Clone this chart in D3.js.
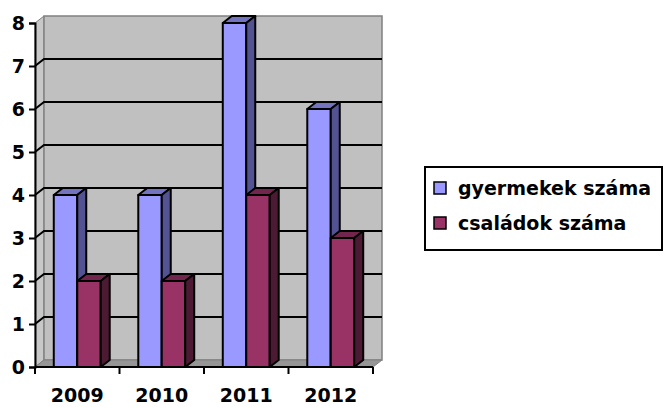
<!DOCTYPE html>
<html><head><meta charset="utf-8">
<script src="https://cdn.jsdelivr.net/npm/d3@7/dist/d3.min.js"></script>
<style>body{margin:0;background:#fff}svg{display:block}text{font-family:"DejaVu Sans",sans-serif;font-weight:bold;fill:#000}</style>
</head><body><svg width="665" height="407"></svg>
<script>
const years = ["2009", "2010", "2011", "2012"];
const seriesNames = ["gyermekek száma", "családok száma"];
const gyermekek = [4, 4, 8, 6];
const csaladok = [2, 2, 4, 3];
const yTicks = [0, 1, 2, 3, 4, 5, 6, 7, 8];

const colors = {
  "gyermekek száma": {front: "#9999FF", top: "#7373BF", side: "#535393"},
  "családok száma": {front: "#993366", top: "#73264D", side: "#4D1A33"}
};
const values = {"gyermekek száma": gyermekek, "családok száma": csaladok};

const svg = d3.select("svg");
const dx = 9, dy = -7;
const x = d3.scaleBand().domain(years).range([35, 373]).paddingInner(0).paddingOuter(0);
const x1 = d3.scaleBand().domain(seriesNames).range([0, x.bandwidth()]).paddingInner(0).paddingOuter(0.8);
const y = d3.scaleLinear().domain([0, 8]).range([367, 23]);
const x0 = x.range()[0], xEnd = x.range()[1], y0 = y(0), yTop = y(8);

// left side wall
svg.append("path").attr("d", `M${x0},${y0}L${x0},${yTop}L${x0+dx},${yTop+dy}L${x0+dx},${y0+dy}Z`)
  .attr("fill", "#C8C8C8").attr("stroke", "#808080").attr("stroke-width", 1);
// back wall
svg.append("rect").attr("x", x0+dx).attr("y", yTop+dy).attr("width", xEnd-x0).attr("height", y0-yTop)
  .attr("fill", "#C0C0C0").attr("stroke", "#808080").attr("stroke-width", 1.5);
// floor
svg.append("path").attr("d", `M${x0},${y0}L${xEnd},${y0}L${xEnd+dx},${y0+dy}L${x0+dx},${y0+dy}Z`)
  .attr("fill", "#969696").attr("stroke", "#808080").attr("stroke-width", 1);

// gridlines
svg.append("g").selectAll("path").data(yTicks.filter(v => v > 0 && v < 8)).join("path")
  .attr("d", v => `M${x0},${y(v)}L${x0+dx},${y(v)+dy}L${xEnd+dx},${y(v)+dy}`)
  .attr("fill", "none").attr("stroke", "#000").attr("stroke-width", 2);

// bars
const bars = svg.append("g");
years.forEach((yr, i) => {
  seriesNames.forEach(s => {
    const v = values[s][i];
    const bx = x(yr) + x1(s), bw = x1.bandwidth(), by = y(v);
    const c = colors[s];
    const g = bars.append("g").attr("stroke", "#000").attr("stroke-width", 2).attr("stroke-linejoin", "round");
    g.append("rect").attr("x", bx).attr("y", by).attr("width", bw).attr("height", y0 - by).attr("fill", c.front);
    g.append("path").attr("d", `M${bx},${by}L${bx+dx},${by+dy}L${bx+bw+dx},${by+dy}L${bx+bw},${by}Z`).attr("fill", c.top);
    g.append("path").attr("d", `M${bx+bw},${by}L${bx+bw+dx},${by+dy}L${bx+bw+dx},${y0+dy}L${bx+bw},${y0}Z`).attr("fill", c.side);
  });
});

// y axis
const yAxis = svg.append("g").attr("transform", `translate(${x0},0)`)
  .call(d3.axisLeft(y).tickValues(yTicks).tickFormat(d3.format("d")).tickSizeOuter(0).tickSize(6).tickPadding(4));
yAxis.attr("font-family", null).attr("font-size", null);
yAxis.select(".domain").attr("stroke", "#000").attr("stroke-width", 2);
yAxis.selectAll(".tick line").attr("stroke", "#000").attr("stroke-width", 2);
yAxis.selectAll("text").style("font-size", "19px").attr("dy", "0.36em");

// x axis line and boundary ticks
svg.append("line").attr("x1", x0).attr("x2", xEnd).attr("y1", y0).attr("y2", y0).attr("stroke", "#000").attr("stroke-width", 2);
svg.append("g").selectAll("line").data(years.map(d => x(d)).concat([xEnd])).join("line")
  .attr("x1", d => d).attr("x2", d => d).attr("y1", y0).attr("y2", y0 + 7)
  .attr("stroke", "#000").attr("stroke-width", 2);
const xAxis = svg.append("g").attr("transform", `translate(0,${y0})`)
  .call(d3.axisBottom(x).tickSize(0).tickPadding(0));
xAxis.attr("font-family", null).attr("font-size", null);
xAxis.select(".domain").remove();
xAxis.selectAll("text").attr("y", 35).attr("dy", 0).style("font-size", "19px");

// legend
const lg = svg.append("g");
lg.append("rect").attr("x", 425).attr("y", 167).attr("width", 237).attr("height", 83)
  .attr("fill", "#fff").attr("stroke", "#000").attr("stroke-width", 2);
const ly = d3.scalePoint().domain(seriesNames).range([189, 224]);
seriesNames.forEach(s => {
  lg.append("rect").attr("x", 434).attr("y", ly(s) - 7).attr("width", 12).attr("height", 12)
    .attr("fill", colors[s].front).attr("stroke", "#000").attr("stroke-width", 1.5);
  lg.append("text").attr("x", 458).attr("y", ly(s) + 6).style("font-size", "19px").text(s);
});
</script></body></html>
